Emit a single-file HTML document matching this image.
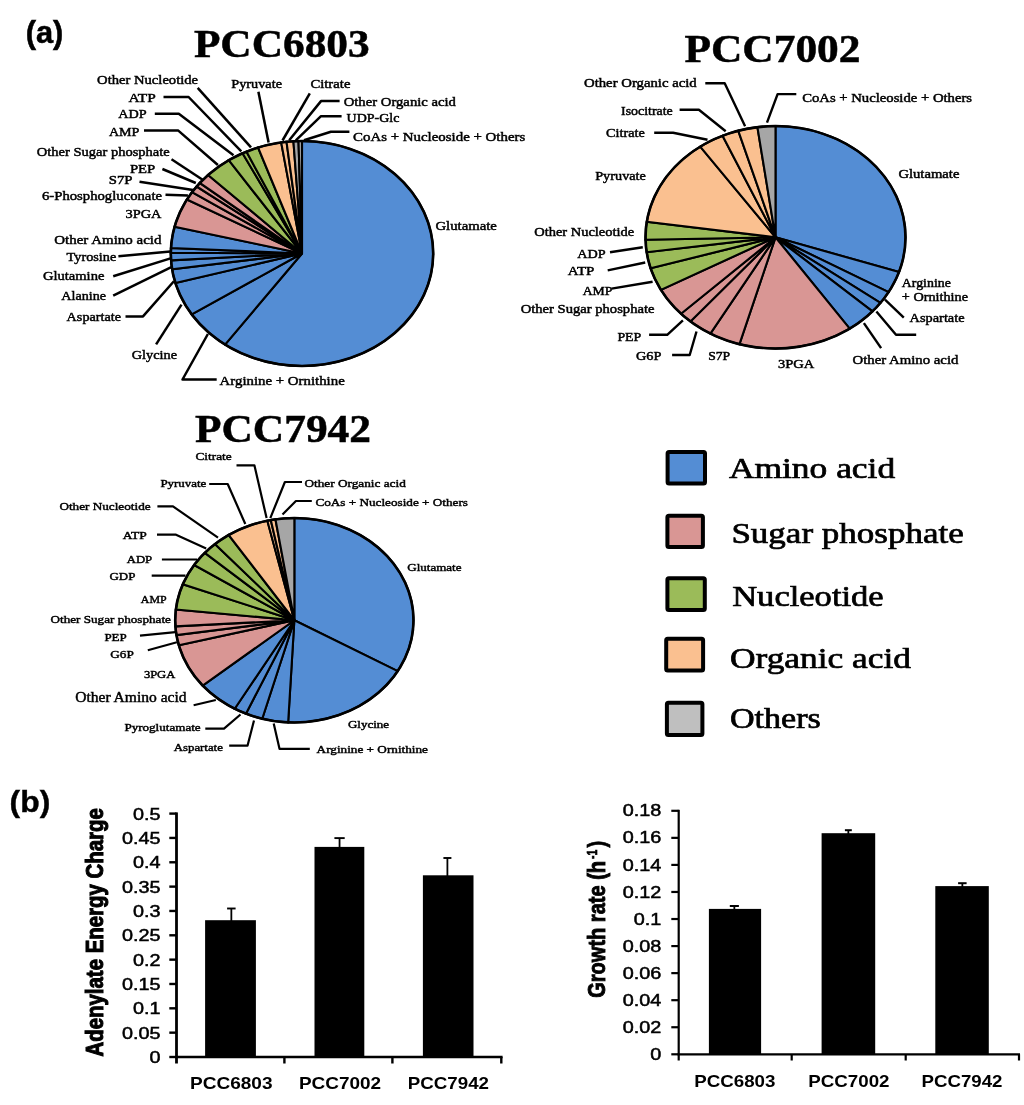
<!DOCTYPE html>
<html><head><meta charset="utf-8"><title>figure</title>
<style>
html,body{margin:0;padding:0;background:#fff;}
body{width:1024px;height:1105px;overflow:hidden;}
svg{display:block;filter:blur(0.35px);}
text{fill:#000;}
</style></head>
<body>
<svg width="1024" height="1105" viewBox="0 0 1024 1105">
<rect x="0" y="0" width="1024" height="1105" fill="#fff"/>
<path d="M302.00,253.50 L302.00,141.00 A131.20,112.50 0 1 1 225.03,344.61 Z" fill="#548DD4" stroke="#000" stroke-width="2.1" stroke-linejoin="miter"/>
<path d="M302.00,253.50 L225.03,344.61 A131.20,112.50 0 0 1 191.70,314.42 Z" fill="#548DD4" stroke="#000" stroke-width="2.1" stroke-linejoin="miter"/>
<path d="M302.00,253.50 L191.70,314.42 A131.20,112.50 0 0 1 175.40,283.02 Z" fill="#548DD4" stroke="#000" stroke-width="2.1" stroke-linejoin="miter"/>
<path d="M302.00,253.50 L175.40,283.02 A131.20,112.50 0 0 1 172.11,269.33 Z" fill="#548DD4" stroke="#000" stroke-width="2.1" stroke-linejoin="miter"/>
<path d="M302.00,253.50 L172.11,269.33 A131.20,112.50 0 0 1 171.05,260.38 Z" fill="#548DD4" stroke="#000" stroke-width="2.1" stroke-linejoin="miter"/>
<path d="M302.00,253.50 L171.05,260.38 A131.20,112.50 0 0 1 170.80,252.79 Z" fill="#548DD4" stroke="#000" stroke-width="2.1" stroke-linejoin="miter"/>
<path d="M302.00,253.50 L170.80,252.79 A131.20,112.50 0 0 1 170.96,247.93 Z" fill="#548DD4" stroke="#000" stroke-width="2.1" stroke-linejoin="miter"/>
<path d="M302.00,253.50 L170.96,247.93 A131.20,112.50 0 0 1 174.54,226.82 Z" fill="#548DD4" stroke="#000" stroke-width="2.1" stroke-linejoin="miter"/>
<path d="M302.00,253.50 L174.54,226.82 A131.20,112.50 0 0 1 186.90,199.50 Z" fill="#D99694" stroke="#000" stroke-width="2.1" stroke-linejoin="miter"/>
<path d="M302.00,253.50 L186.90,199.50 A131.20,112.50 0 0 1 192.03,192.14 Z" fill="#D99694" stroke="#000" stroke-width="2.1" stroke-linejoin="miter"/>
<path d="M302.00,253.50 L192.03,192.14 A131.20,112.50 0 0 1 196.59,186.51 Z" fill="#D99694" stroke="#000" stroke-width="2.1" stroke-linejoin="miter"/>
<path d="M302.00,253.50 L196.59,186.51 A131.20,112.50 0 0 1 199.77,182.98 Z" fill="#D99694" stroke="#000" stroke-width="2.1" stroke-linejoin="miter"/>
<path d="M302.00,253.50 L199.77,182.98 A131.20,112.50 0 0 1 208.06,174.96 Z" fill="#D99694" stroke="#000" stroke-width="2.1" stroke-linejoin="miter"/>
<path d="M302.00,253.50 L208.06,174.96 A131.20,112.50 0 0 1 228.74,160.17 Z" fill="#9BBB59" stroke="#000" stroke-width="2.1" stroke-linejoin="miter"/>
<path d="M302.00,253.50 L228.74,160.17 A131.20,112.50 0 0 1 242.54,153.22 Z" fill="#9BBB59" stroke="#000" stroke-width="2.1" stroke-linejoin="miter"/>
<path d="M302.00,253.50 L242.54,153.22 A131.20,112.50 0 0 1 246.41,151.60 Z" fill="#9BBB59" stroke="#000" stroke-width="2.1" stroke-linejoin="miter"/>
<path d="M302.00,253.50 L246.41,151.60 A131.20,112.50 0 0 1 258.04,147.50 Z" fill="#9BBB59" stroke="#000" stroke-width="2.1" stroke-linejoin="miter"/>
<path d="M302.00,253.50 L258.04,147.50 A131.20,112.50 0 0 1 281.17,142.43 Z" fill="#FAC090" stroke="#000" stroke-width="2.1" stroke-linejoin="miter"/>
<path d="M302.00,253.50 L281.17,142.43 A131.20,112.50 0 0 1 286.51,141.79 Z" fill="#FAC090" stroke="#000" stroke-width="2.1" stroke-linejoin="miter"/>
<path d="M302.00,253.50 L286.51,141.79 A131.20,112.50 0 0 1 293.42,141.24 Z" fill="#FAC090" stroke="#000" stroke-width="2.1" stroke-linejoin="miter"/>
<path d="M302.00,253.50 L293.42,141.24 A131.20,112.50 0 0 1 298.50,141.04 Z" fill="#A6A6A6" stroke="#000" stroke-width="2.1" stroke-linejoin="miter"/>
<path d="M302.00,253.50 L298.50,141.04 A131.20,112.50 0 0 1 302.00,141.00 Z" fill="#A6A6A6" stroke="#000" stroke-width="2.1" stroke-linejoin="miter"/>
<ellipse cx="302.00" cy="253.50" rx="131.20" ry="112.50" fill="none" stroke="#000" stroke-width="2.6"/>
<path d="M775.50,237.30 L775.50,126.05 A130.00,111.25 0 0 1 899.01,272.02 Z" fill="#548DD4" stroke="#000" stroke-width="2.1" stroke-linejoin="miter"/>
<path d="M775.50,237.30 L899.01,272.02 A130.00,111.25 0 0 1 888.60,292.14 Z" fill="#548DD4" stroke="#000" stroke-width="2.1" stroke-linejoin="miter"/>
<path d="M775.50,237.30 L888.60,292.14 A130.00,111.25 0 0 1 880.48,302.91 Z" fill="#548DD4" stroke="#000" stroke-width="2.1" stroke-linejoin="miter"/>
<path d="M775.50,237.30 L880.48,302.91 A130.00,111.25 0 0 1 872.48,311.39 Z" fill="#548DD4" stroke="#000" stroke-width="2.1" stroke-linejoin="miter"/>
<path d="M775.50,237.30 L872.48,311.39 A130.00,111.25 0 0 1 849.69,328.65 Z" fill="#548DD4" stroke="#000" stroke-width="2.1" stroke-linejoin="miter"/>
<path d="M775.50,237.30 L849.69,328.65 A130.00,111.25 0 0 1 739.47,344.19 Z" fill="#D99694" stroke="#000" stroke-width="2.1" stroke-linejoin="miter"/>
<path d="M775.50,237.30 L739.47,344.19 A130.00,111.25 0 0 1 710.38,333.58 Z" fill="#D99694" stroke="#000" stroke-width="2.1" stroke-linejoin="miter"/>
<path d="M775.50,237.30 L710.38,333.58 A130.00,111.25 0 0 1 690.46,321.44 Z" fill="#D99694" stroke="#000" stroke-width="2.1" stroke-linejoin="miter"/>
<path d="M775.50,237.30 L690.46,321.44 A130.00,111.25 0 0 1 681.02,313.72 Z" fill="#D99694" stroke="#000" stroke-width="2.1" stroke-linejoin="miter"/>
<path d="M775.50,237.30 L681.02,313.72 A130.00,111.25 0 0 1 660.92,289.85 Z" fill="#D99694" stroke="#000" stroke-width="2.1" stroke-linejoin="miter"/>
<path d="M775.50,237.30 L660.92,289.85 A130.00,111.25 0 0 1 650.65,268.31 Z" fill="#9BBB59" stroke="#000" stroke-width="2.1" stroke-linejoin="miter"/>
<path d="M775.50,237.30 L650.65,268.31 A130.00,111.25 0 0 1 646.67,252.17 Z" fill="#9BBB59" stroke="#000" stroke-width="2.1" stroke-linejoin="miter"/>
<path d="M775.50,237.30 L646.67,252.17 A130.00,111.25 0 0 1 645.53,239.70 Z" fill="#9BBB59" stroke="#000" stroke-width="2.1" stroke-linejoin="miter"/>
<path d="M775.50,237.30 L645.53,239.70 A130.00,111.25 0 0 1 646.78,221.75 Z" fill="#9BBB59" stroke="#000" stroke-width="2.1" stroke-linejoin="miter"/>
<path d="M775.50,237.30 L646.78,221.75 A130.00,111.25 0 0 1 700.22,146.60 Z" fill="#FAC090" stroke="#000" stroke-width="2.1" stroke-linejoin="miter"/>
<path d="M775.50,237.30 L700.22,146.60 A130.00,111.25 0 0 1 722.56,135.69 Z" fill="#FAC090" stroke="#000" stroke-width="2.1" stroke-linejoin="miter"/>
<path d="M775.50,237.30 L722.56,135.69 A130.00,111.25 0 0 1 738.23,130.72 Z" fill="#FAC090" stroke="#000" stroke-width="2.1" stroke-linejoin="miter"/>
<path d="M775.50,237.30 L738.23,130.72 A130.00,111.25 0 0 1 757.42,127.13 Z" fill="#FAC090" stroke="#000" stroke-width="2.1" stroke-linejoin="miter"/>
<path d="M775.50,237.30 L757.42,127.13 A130.00,111.25 0 0 1 775.50,126.05 Z" fill="#A6A6A6" stroke="#000" stroke-width="2.1" stroke-linejoin="miter"/>
<ellipse cx="775.50" cy="237.30" rx="130.00" ry="111.25" fill="none" stroke="#000" stroke-width="2.6"/>
<path d="M294.35,620.25 L294.35,518.00 A119.15,102.25 0 0 1 397.70,671.14 Z" fill="#548DD4" stroke="#000" stroke-width="2.1" stroke-linejoin="miter"/>
<path d="M294.35,620.25 L397.70,671.14 A119.15,102.25 0 0 1 288.15,722.36 Z" fill="#548DD4" stroke="#000" stroke-width="2.1" stroke-linejoin="miter"/>
<path d="M294.35,620.25 L288.15,722.36 A119.15,102.25 0 0 1 262.23,718.72 Z" fill="#548DD4" stroke="#000" stroke-width="2.1" stroke-linejoin="miter"/>
<path d="M294.35,620.25 L262.23,718.72 A119.15,102.25 0 0 1 245.94,713.68 Z" fill="#548DD4" stroke="#000" stroke-width="2.1" stroke-linejoin="miter"/>
<path d="M294.35,620.25 L245.94,713.68 A119.15,102.25 0 0 1 234.69,708.76 Z" fill="#548DD4" stroke="#000" stroke-width="2.1" stroke-linejoin="miter"/>
<path d="M294.35,620.25 L234.69,708.76 A119.15,102.25 0 0 1 202.68,685.57 Z" fill="#548DD4" stroke="#000" stroke-width="2.1" stroke-linejoin="miter"/>
<path d="M294.35,620.25 L202.68,685.57 A119.15,102.25 0 0 1 178.83,645.29 Z" fill="#D99694" stroke="#000" stroke-width="2.1" stroke-linejoin="miter"/>
<path d="M294.35,620.25 L178.83,645.29 A119.15,102.25 0 0 1 176.47,635.15 Z" fill="#D99694" stroke="#000" stroke-width="2.1" stroke-linejoin="miter"/>
<path d="M294.35,620.25 L176.47,635.15 A119.15,102.25 0 0 1 175.42,626.40 Z" fill="#D99694" stroke="#000" stroke-width="2.1" stroke-linejoin="miter"/>
<path d="M294.35,620.25 L175.42,626.40 A119.15,102.25 0 0 1 175.86,609.54 Z" fill="#D99694" stroke="#000" stroke-width="2.1" stroke-linejoin="miter"/>
<path d="M294.35,620.25 L175.86,609.54 A119.15,102.25 0 0 1 182.83,584.24 Z" fill="#9BBB59" stroke="#000" stroke-width="2.1" stroke-linejoin="miter"/>
<path d="M294.35,620.25 L182.83,584.24 A119.15,102.25 0 0 1 194.08,565.02 Z" fill="#9BBB59" stroke="#000" stroke-width="2.1" stroke-linejoin="miter"/>
<path d="M294.35,620.25 L194.08,565.02 A119.15,102.25 0 0 1 204.81,552.79 Z" fill="#9BBB59" stroke="#000" stroke-width="2.1" stroke-linejoin="miter"/>
<path d="M294.35,620.25 L204.81,552.79 A119.15,102.25 0 0 1 214.93,544.03 Z" fill="#9BBB59" stroke="#000" stroke-width="2.1" stroke-linejoin="miter"/>
<path d="M294.35,620.25 L214.93,544.03 A119.15,102.25 0 0 1 228.62,534.97 Z" fill="#9BBB59" stroke="#000" stroke-width="2.1" stroke-linejoin="miter"/>
<path d="M294.35,620.25 L228.62,534.97 A119.15,102.25 0 0 1 267.32,520.67 Z" fill="#FAC090" stroke="#000" stroke-width="2.1" stroke-linejoin="miter"/>
<path d="M294.35,620.25 L267.32,520.67 A119.15,102.25 0 0 1 270.78,520.02 Z" fill="#FAC090" stroke="#000" stroke-width="2.1" stroke-linejoin="miter"/>
<path d="M294.35,620.25 L270.78,520.02 A119.15,102.25 0 0 1 275.44,519.30 Z" fill="#FAC090" stroke="#000" stroke-width="2.1" stroke-linejoin="miter"/>
<path d="M294.35,620.25 L275.44,519.30 A119.15,102.25 0 0 1 294.35,518.00 Z" fill="#A6A6A6" stroke="#000" stroke-width="2.1" stroke-linejoin="miter"/>
<ellipse cx="294.35" cy="620.25" rx="119.15" ry="102.25" fill="none" stroke="#000" stroke-width="2.6"/>
<polyline points="197.7,87.8 251.0,147.4" fill="none" stroke="#000" stroke-width="2.5" stroke-linejoin="round" stroke-linecap="butt"/>
<polyline points="163.5,97.0 188.6,97.0 241.3,151.3" fill="none" stroke="#000" stroke-width="2.5" stroke-linejoin="round" stroke-linecap="butt"/>
<polyline points="154.8,113.7 178.8,113.7 233.5,155.2" fill="none" stroke="#000" stroke-width="2.5" stroke-linejoin="round" stroke-linecap="butt"/>
<polyline points="144.0,130.6 178.3,130.6 217.9,165.0" fill="none" stroke="#000" stroke-width="2.5" stroke-linejoin="round" stroke-linecap="butt"/>
<polyline points="171.5,159.3 203.0,180.0" fill="none" stroke="#000" stroke-width="2.5" stroke-linejoin="round" stroke-linecap="butt"/>
<polyline points="162.4,169.0 195.8,183.0" fill="none" stroke="#000" stroke-width="2.5" stroke-linejoin="round" stroke-linecap="butt"/>
<polyline points="139.5,181.7 193.1,190.1" fill="none" stroke="#000" stroke-width="2.5" stroke-linejoin="round" stroke-linecap="butt"/>
<polyline points="165.5,194.8 187.9,195.5" fill="none" stroke="#000" stroke-width="2.5" stroke-linejoin="round" stroke-linecap="butt"/>
<polyline points="118.4,256.3 170.5,251.4" fill="none" stroke="#000" stroke-width="2.5" stroke-linejoin="round" stroke-linecap="butt"/>
<polyline points="113.2,276.3 170.5,258.4" fill="none" stroke="#000" stroke-width="2.5" stroke-linejoin="round" stroke-linecap="butt"/>
<polyline points="113.2,295.7 171.3,267.2" fill="none" stroke="#000" stroke-width="2.5" stroke-linejoin="round" stroke-linecap="butt"/>
<polyline points="125.5,316.4 143.0,316.4 173.9,281.2" fill="none" stroke="#000" stroke-width="2.5" stroke-linejoin="round" stroke-linecap="butt"/>
<polyline points="156.1,344.3 181.5,304.6" fill="none" stroke="#000" stroke-width="2.5" stroke-linejoin="round" stroke-linecap="butt"/>
<polyline points="216.7,379.5 182.5,379.5 207.9,334.0" fill="none" stroke="#000" stroke-width="2.5" stroke-linejoin="round" stroke-linecap="butt"/>
<polyline points="258.4,91.7 268.6,142.5" fill="none" stroke="#000" stroke-width="2.5" stroke-linejoin="round" stroke-linecap="butt"/>
<polyline points="309.8,93.3 282.5,140.5" fill="none" stroke="#000" stroke-width="2.5" stroke-linejoin="round" stroke-linecap="butt"/>
<polyline points="339.6,101.1 321.0,101.1 289.2,140.3" fill="none" stroke="#000" stroke-width="2.5" stroke-linejoin="round" stroke-linecap="butt"/>
<polyline points="341.6,116.2 321.0,116.2 295.8,140.3" fill="none" stroke="#000" stroke-width="2.5" stroke-linejoin="round" stroke-linecap="butt"/>
<polyline points="349.4,131.8 330.9,131.8 304.0,140.3" fill="none" stroke="#000" stroke-width="2.5" stroke-linejoin="round" stroke-linecap="butt"/>
<polyline points="705.3,83.3 724.7,83.3 745.1,126.3" fill="none" stroke="#000" stroke-width="2.4" stroke-linejoin="round" stroke-linecap="butt"/>
<polyline points="679.6,109.7 698.9,109.7 725.7,131.2" fill="none" stroke="#000" stroke-width="2.4" stroke-linejoin="round" stroke-linecap="butt"/>
<polyline points="654.2,132.7 673.1,132.7 707.5,139.8" fill="none" stroke="#000" stroke-width="2.4" stroke-linejoin="round" stroke-linecap="butt"/>
<polyline points="796.3,94.1 777.6,94.1 767.0,122.7" fill="none" stroke="#000" stroke-width="2.4" stroke-linejoin="round" stroke-linecap="butt"/>
<polyline points="610.0,252.3 642.8,247.2" fill="none" stroke="#000" stroke-width="2.4" stroke-linejoin="round" stroke-linecap="butt"/>
<polyline points="607.7,270.3 645.2,262.5" fill="none" stroke="#000" stroke-width="2.4" stroke-linejoin="round" stroke-linecap="butt"/>
<polyline points="611.6,288.6 652.6,281.7" fill="none" stroke="#000" stroke-width="2.4" stroke-linejoin="round" stroke-linecap="butt"/>
<polyline points="649.1,334.8 667.2,334.8 682.9,320.4" fill="none" stroke="#000" stroke-width="2.4" stroke-linejoin="round" stroke-linecap="butt"/>
<polyline points="672.1,355.0 689.7,355.0 696.5,331.5" fill="none" stroke="#000" stroke-width="2.4" stroke-linejoin="round" stroke-linecap="butt"/>
<polyline points="885.0,299.7 903.8,317.7" fill="none" stroke="#000" stroke-width="2.4" stroke-linejoin="round" stroke-linecap="butt"/>
<polyline points="876.4,311.4 896.0,334.8 916.2,334.8" fill="none" stroke="#000" stroke-width="2.4" stroke-linejoin="round" stroke-linecap="butt"/>
<polyline points="863.9,323.1 881.1,348.1" fill="none" stroke="#000" stroke-width="2.4" stroke-linejoin="round" stroke-linecap="butt"/>
<polyline points="236.5,465.3 254.4,465.3 266.6,518.1" fill="none" stroke="#000" stroke-width="2.2" stroke-linejoin="round" stroke-linecap="butt"/>
<polyline points="209.2,484.0 227.7,484.0 245.3,524.0" fill="none" stroke="#000" stroke-width="2.2" stroke-linejoin="round" stroke-linecap="butt"/>
<polyline points="157.4,506.4 173.0,506.4 218.0,537.7" fill="none" stroke="#000" stroke-width="2.2" stroke-linejoin="round" stroke-linecap="butt"/>
<polyline points="157.0,534.7 176.0,534.7 206.2,548.4" fill="none" stroke="#000" stroke-width="2.2" stroke-linejoin="round" stroke-linecap="butt"/>
<polyline points="161.9,559.5 197.0,559.5" fill="none" stroke="#000" stroke-width="2.2" stroke-linejoin="round" stroke-linecap="butt"/>
<polyline points="151.7,575.6 185.5,575.6" fill="none" stroke="#000" stroke-width="2.2" stroke-linejoin="round" stroke-linecap="butt"/>
<polyline points="140.0,635.6 175.4,632.2" fill="none" stroke="#000" stroke-width="2.2" stroke-linejoin="round" stroke-linecap="butt"/>
<polyline points="147.8,650.2 176.9,642.3" fill="none" stroke="#000" stroke-width="2.2" stroke-linejoin="round" stroke-linecap="butt"/>
<polyline points="193.6,705.2 215.8,700.0" fill="none" stroke="#000" stroke-width="2.2" stroke-linejoin="round" stroke-linecap="butt"/>
<polyline points="205.3,728.6 224.0,728.6 240.5,714.5" fill="none" stroke="#000" stroke-width="2.2" stroke-linejoin="round" stroke-linecap="butt"/>
<polyline points="229.2,745.7 247.5,745.7 254.0,720.4" fill="none" stroke="#000" stroke-width="2.2" stroke-linejoin="round" stroke-linecap="butt"/>
<polyline points="309.8,748.8 279.5,748.8 273.7,723.4" fill="none" stroke="#000" stroke-width="2.2" stroke-linejoin="round" stroke-linecap="butt"/>
<polyline points="302.0,482.0 284.9,482.0 270.3,518.1" fill="none" stroke="#000" stroke-width="2.2" stroke-linejoin="round" stroke-linecap="butt"/>
<polyline points="311.8,501.0 295.9,501.0 282.5,514.5" fill="none" stroke="#000" stroke-width="2.2" stroke-linejoin="round" stroke-linecap="butt"/>
<text x="97.10" y="83.90" font-family='"Liberation Serif", serif' font-size="12.5" font-weight="normal" textLength="100.99" lengthAdjust="spacingAndGlyphs" stroke="#000" stroke-width="0.45">Other Nucleotide</text>
<text x="128.40" y="101.50" font-family='"Liberation Serif", serif' font-size="12.5" font-weight="normal" textLength="27.27" lengthAdjust="spacingAndGlyphs" stroke="#000" stroke-width="0.45">ATP</text>
<text x="118.20" y="118.30" font-family='"Liberation Serif", serif' font-size="12.5" font-weight="normal" textLength="28.41" lengthAdjust="spacingAndGlyphs" stroke="#000" stroke-width="0.45">ADP</text>
<text x="108.90" y="136.30" font-family='"Liberation Serif", serif' font-size="12.5" font-weight="normal" textLength="30.56" lengthAdjust="spacingAndGlyphs" stroke="#000" stroke-width="0.45">AMP</text>
<text x="36.70" y="155.80" font-family='"Liberation Serif", serif' font-size="12.5" font-weight="normal" textLength="133.09" lengthAdjust="spacingAndGlyphs" stroke="#000" stroke-width="0.45">Other Sugar phosphate</text>
<text x="129.90" y="172.50" font-family='"Liberation Serif", serif' font-size="12.5" font-weight="normal" textLength="25.37" lengthAdjust="spacingAndGlyphs" stroke="#000" stroke-width="0.45">PEP</text>
<text x="108.80" y="183.60" font-family='"Liberation Serif", serif' font-size="12.5" font-weight="normal" textLength="23.73" lengthAdjust="spacingAndGlyphs" stroke="#000" stroke-width="0.45">S7P</text>
<text x="42.00" y="199.80" font-family='"Liberation Serif", serif' font-size="12.5" font-weight="normal" textLength="120.01" lengthAdjust="spacingAndGlyphs" stroke="#000" stroke-width="0.45">6-Phosphogluconate</text>
<text x="125.50" y="218.20" font-family='"Liberation Serif", serif' font-size="12.5" font-weight="normal" textLength="36.01" lengthAdjust="spacingAndGlyphs" stroke="#000" stroke-width="0.45">3PGA</text>
<text x="54.30" y="243.50" font-family='"Liberation Serif", serif' font-size="12.5" font-weight="normal" textLength="107.20" lengthAdjust="spacingAndGlyphs" stroke="#000" stroke-width="0.45">Other Amino acid</text>
<text x="66.60" y="261.00" font-family='"Liberation Serif", serif' font-size="12.5" font-weight="normal" textLength="49.70" lengthAdjust="spacingAndGlyphs" stroke="#000" stroke-width="0.45">Tyrosine</text>
<text x="42.90" y="280.40" font-family='"Liberation Serif", serif' font-size="12.5" font-weight="normal" textLength="61.52" lengthAdjust="spacingAndGlyphs" stroke="#000" stroke-width="0.45">Glutamine</text>
<text x="61.30" y="300.20" font-family='"Liberation Serif", serif' font-size="12.5" font-weight="normal" textLength="44.81" lengthAdjust="spacingAndGlyphs" stroke="#000" stroke-width="0.45">Alanine</text>
<text x="66.60" y="320.80" font-family='"Liberation Serif", serif' font-size="12.5" font-weight="normal" textLength="54.52" lengthAdjust="spacingAndGlyphs" stroke="#000" stroke-width="0.45">Aspartate</text>
<text x="131.70" y="359.30" font-family='"Liberation Serif", serif' font-size="12.5" font-weight="normal" textLength="45.31" lengthAdjust="spacingAndGlyphs" stroke="#000" stroke-width="0.45">Glycine</text>
<text x="219.60" y="384.60" font-family='"Liberation Serif", serif' font-size="12.5" font-weight="normal" textLength="125.17" lengthAdjust="spacingAndGlyphs" stroke="#000" stroke-width="0.45">Arginine + Ornithine</text>
<text x="435.40" y="229.50" font-family='"Liberation Serif", serif' font-size="12.5" font-weight="normal" textLength="61.50" lengthAdjust="spacingAndGlyphs" stroke="#000" stroke-width="0.45">Glutamate</text>
<text x="231.30" y="88.00" font-family='"Liberation Serif", serif' font-size="12.5" font-weight="normal" textLength="50.70" lengthAdjust="spacingAndGlyphs" stroke="#000" stroke-width="0.45">Pyruvate</text>
<text x="310.40" y="88.40" font-family='"Liberation Serif", serif' font-size="12.5" font-weight="normal" textLength="40.02" lengthAdjust="spacingAndGlyphs" stroke="#000" stroke-width="0.45">Citrate</text>
<text x="343.70" y="105.70" font-family='"Liberation Serif", serif' font-size="12.5" font-weight="normal" textLength="112.30" lengthAdjust="spacingAndGlyphs" stroke="#000" stroke-width="0.45">Other Organic acid</text>
<text x="346.60" y="121.80" font-family='"Liberation Serif", serif' font-size="12.5" font-weight="normal" textLength="52.73" lengthAdjust="spacingAndGlyphs" stroke="#000" stroke-width="0.45">UDP-Glc</text>
<text x="353.00" y="140.70" font-family='"Liberation Serif", serif' font-size="12.5" font-weight="normal" textLength="172.31" lengthAdjust="spacingAndGlyphs" stroke="#000" stroke-width="0.45">CoAs + Nucleoside + Others</text>
<text x="584.00" y="87.20" font-family='"Liberation Serif", serif' font-size="12.3" font-weight="normal" textLength="112.70" lengthAdjust="spacingAndGlyphs" stroke="#000" stroke-width="0.45">Other Organic acid</text>
<text x="621.10" y="114.70" font-family='"Liberation Serif", serif' font-size="12.3" font-weight="normal" textLength="51.60" lengthAdjust="spacingAndGlyphs" stroke="#000" stroke-width="0.45">Isocitrate</text>
<text x="606.10" y="137.00" font-family='"Liberation Serif", serif' font-size="12.3" font-weight="normal" textLength="38.72" lengthAdjust="spacingAndGlyphs" stroke="#000" stroke-width="0.45">Citrate</text>
<text x="595.20" y="180.00" font-family='"Liberation Serif", serif' font-size="12.3" font-weight="normal" textLength="50.70" lengthAdjust="spacingAndGlyphs" stroke="#000" stroke-width="0.45">Pyruvate</text>
<text x="534.20" y="236.25" font-family='"Liberation Serif", serif' font-size="12.3" font-weight="normal" textLength="99.99" lengthAdjust="spacingAndGlyphs" stroke="#000" stroke-width="0.45">Other Nucleotide</text>
<text x="577.20" y="257.50" font-family='"Liberation Serif", serif' font-size="12.3" font-weight="normal" textLength="28.41" lengthAdjust="spacingAndGlyphs" stroke="#000" stroke-width="0.45">ADP</text>
<text x="567.80" y="274.70" font-family='"Liberation Serif", serif' font-size="12.3" font-weight="normal" textLength="26.58" lengthAdjust="spacingAndGlyphs" stroke="#000" stroke-width="0.45">ATP</text>
<text x="582.70" y="295.40" font-family='"Liberation Serif", serif' font-size="12.3" font-weight="normal" textLength="29.77" lengthAdjust="spacingAndGlyphs" stroke="#000" stroke-width="0.45">AMP</text>
<text x="520.70" y="313.40" font-family='"Liberation Serif", serif' font-size="12.3" font-weight="normal" textLength="133.79" lengthAdjust="spacingAndGlyphs" stroke="#000" stroke-width="0.45">Other Sugar phosphate</text>
<text x="617.40" y="340.70" font-family='"Liberation Serif", serif' font-size="12.3" font-weight="normal" textLength="23.83" lengthAdjust="spacingAndGlyphs" stroke="#000" stroke-width="0.45">PEP</text>
<text x="636.00" y="360.20" font-family='"Liberation Serif", serif' font-size="12.3" font-weight="normal" textLength="25.38" lengthAdjust="spacingAndGlyphs" stroke="#000" stroke-width="0.45">G6P</text>
<text x="708.20" y="359.60" font-family='"Liberation Serif", serif' font-size="12.3" font-weight="normal" textLength="21.93" lengthAdjust="spacingAndGlyphs" stroke="#000" stroke-width="0.45">S7P</text>
<text x="778.00" y="367.90" font-family='"Liberation Serif", serif' font-size="12.3" font-weight="normal" textLength="36.31" lengthAdjust="spacingAndGlyphs" stroke="#000" stroke-width="0.45">3PGA</text>
<text x="852.60" y="363.75" font-family='"Liberation Serif", serif' font-size="12.3" font-weight="normal" textLength="105.80" lengthAdjust="spacingAndGlyphs" stroke="#000" stroke-width="0.45">Other Amino acid</text>
<text x="909.60" y="322.00" font-family='"Liberation Serif", serif' font-size="12.3" font-weight="normal" textLength="55.02" lengthAdjust="spacingAndGlyphs" stroke="#000" stroke-width="0.45">Aspartate</text>
<text x="901.80" y="286.70" font-family='"Liberation Serif", serif' font-size="12.3" font-weight="normal" textLength="49.02" lengthAdjust="spacingAndGlyphs" stroke="#000" stroke-width="0.45">Arginine</text>
<text x="901.80" y="301.30" font-family='"Liberation Serif", serif' font-size="12.3" font-weight="normal" textLength="66.22" lengthAdjust="spacingAndGlyphs" stroke="#000" stroke-width="0.45">+ Ornithine</text>
<text x="898.40" y="177.50" font-family='"Liberation Serif", serif' font-size="12.3" font-weight="normal" textLength="61.00" lengthAdjust="spacingAndGlyphs" stroke="#000" stroke-width="0.45">Glutamate</text>
<text x="802.20" y="101.60" font-family='"Liberation Serif", serif' font-size="12.3" font-weight="normal" textLength="169.91" lengthAdjust="spacingAndGlyphs" stroke="#000" stroke-width="0.45">CoAs + Nucleoside + Others</text>
<text x="195.50" y="460.10" font-family='"Liberation Serif", serif' font-size="11.3" font-weight="normal" textLength="36.12" lengthAdjust="spacingAndGlyphs" stroke="#000" stroke-width="0.45">Citrate</text>
<text x="160.40" y="486.90" font-family='"Liberation Serif", serif' font-size="11.3" font-weight="normal" textLength="45.85" lengthAdjust="spacingAndGlyphs" stroke="#000" stroke-width="0.45">Pyruvate</text>
<text x="59.40" y="510.30" font-family='"Liberation Serif", serif' font-size="11.3" font-weight="normal" textLength="91.19" lengthAdjust="spacingAndGlyphs" stroke="#000" stroke-width="0.45">Other Nucleotide</text>
<text x="122.70" y="538.60" font-family='"Liberation Serif", serif' font-size="11.3" font-weight="normal" textLength="23.98" lengthAdjust="spacingAndGlyphs" stroke="#000" stroke-width="0.45">ATP</text>
<text x="126.70" y="563.40" font-family='"Liberation Serif", serif' font-size="11.3" font-weight="normal" textLength="25.51" lengthAdjust="spacingAndGlyphs" stroke="#000" stroke-width="0.45">ADP</text>
<text x="109.50" y="580.30" font-family='"Liberation Serif", serif' font-size="11.3" font-weight="normal" textLength="25.81" lengthAdjust="spacingAndGlyphs" stroke="#000" stroke-width="0.45">GDP</text>
<text x="140.80" y="602.50" font-family='"Liberation Serif", serif' font-size="11.3" font-weight="normal" textLength="25.77" lengthAdjust="spacingAndGlyphs" stroke="#000" stroke-width="0.45">AMP</text>
<text x="50.60" y="622.50" font-family='"Liberation Serif", serif' font-size="11.3" font-weight="normal" textLength="120.29" lengthAdjust="spacingAndGlyphs" stroke="#000" stroke-width="0.45">Other Sugar phosphate</text>
<text x="104.40" y="640.80" font-family='"Liberation Serif", serif' font-size="11.3" font-weight="normal" textLength="22.28" lengthAdjust="spacingAndGlyphs" stroke="#000" stroke-width="0.45">PEP</text>
<text x="110.30" y="658.00" font-family='"Liberation Serif", serif' font-size="11.3" font-weight="normal" textLength="23.43" lengthAdjust="spacingAndGlyphs" stroke="#000" stroke-width="0.45">G6P</text>
<text x="143.90" y="678.30" font-family='"Liberation Serif", serif' font-size="11.3" font-weight="normal" textLength="31.31" lengthAdjust="spacingAndGlyphs" stroke="#000" stroke-width="0.45">3PGA</text>
<text x="124.40" y="731.40" font-family='"Liberation Serif", serif' font-size="11.3" font-weight="normal" textLength="76.23" lengthAdjust="spacingAndGlyphs" stroke="#000" stroke-width="0.45">Pyroglutamate</text>
<text x="173.70" y="750.90" font-family='"Liberation Serif", serif' font-size="11.3" font-weight="normal" textLength="49.22" lengthAdjust="spacingAndGlyphs" stroke="#000" stroke-width="0.45">Aspartate</text>
<text x="316.60" y="753.10" font-family='"Liberation Serif", serif' font-size="11.3" font-weight="normal" textLength="111.38" lengthAdjust="spacingAndGlyphs" stroke="#000" stroke-width="0.45">Arginine + Ornithine</text>
<text x="348.00" y="728.20" font-family='"Liberation Serif", serif' font-size="11.3" font-weight="normal" textLength="41.01" lengthAdjust="spacingAndGlyphs" stroke="#000" stroke-width="0.45">Glycine</text>
<text x="407.30" y="570.60" font-family='"Liberation Serif", serif' font-size="11.3" font-weight="normal" textLength="54.20" lengthAdjust="spacingAndGlyphs" stroke="#000" stroke-width="0.45">Glutamate</text>
<text x="304.50" y="486.90" font-family='"Liberation Serif", serif' font-size="11.3" font-weight="normal" textLength="101.30" lengthAdjust="spacingAndGlyphs" stroke="#000" stroke-width="0.45">Other Organic acid</text>
<text x="315.40" y="505.90" font-family='"Liberation Serif", serif' font-size="11.3" font-weight="normal" textLength="152.61" lengthAdjust="spacingAndGlyphs" stroke="#000" stroke-width="0.45">CoAs + Nucleoside + Others</text>
<text x="75.20" y="701.60" font-family='"Liberation Serif", serif' font-size="14" font-weight="normal" textLength="111.40" lengthAdjust="spacingAndGlyphs" stroke="#000" stroke-width="0.45">Other Amino acid</text>
<text x="193.90" y="57.30" font-family='"Liberation Serif", serif' font-size="40" font-weight="bold" textLength="175.81" lengthAdjust="spacingAndGlyphs" stroke="#000" stroke-width="0.5">PCC6803</text>
<text x="684.50" y="62.00" font-family='"Liberation Serif", serif' font-size="40" font-weight="bold" textLength="176.01" lengthAdjust="spacingAndGlyphs" stroke="#000" stroke-width="0.5">PCC7002</text>
<text x="195.00" y="441.50" font-family='"Liberation Serif", serif' font-size="40" font-weight="bold" textLength="176.01" lengthAdjust="spacingAndGlyphs" stroke="#000" stroke-width="0.5">PCC7942</text>
<text x="25.70" y="43.20" font-family='"Liberation Sans", sans-serif' font-size="31" font-weight="bold" textLength="37.67" lengthAdjust="spacingAndGlyphs" stroke="#000" stroke-width="0.5">(a)</text>
<text x="9.60" y="811.60" font-family='"Liberation Sans", sans-serif' font-size="30" font-weight="bold" textLength="40.66" lengthAdjust="spacingAndGlyphs" stroke="#000" stroke-width="0.4">(b)</text>
<rect x="667.60" y="452.10" width="37.40" height="31.50" rx="1.5" fill="#548DD4" stroke="#000" stroke-width="4.0"/>
<text x="728.90" y="477.50" font-family='"Liberation Serif", serif' font-size="30" font-weight="normal" textLength="166.24" lengthAdjust="spacingAndGlyphs" stroke="#000" stroke-width="0.7">Amino acid</text>
<rect x="667.40" y="515.80" width="35.50" height="31.10" rx="1.5" fill="#D99694" stroke="#000" stroke-width="4.0"/>
<text x="731.40" y="542.80" font-family='"Liberation Serif", serif' font-size="30" font-weight="normal" textLength="232.32" lengthAdjust="spacingAndGlyphs" stroke="#000" stroke-width="0.7">Sugar phosphate</text>
<rect x="667.40" y="578.20" width="37.40" height="31.90" rx="1.5" fill="#9BBB59" stroke="#000" stroke-width="4.0"/>
<text x="732.20" y="606.00" font-family='"Liberation Serif", serif' font-size="30" font-weight="normal" textLength="151.47" lengthAdjust="spacingAndGlyphs" stroke="#000" stroke-width="0.7">Nucleotide</text>
<rect x="666.20" y="638.80" width="36.90" height="31.80" rx="1.5" fill="#FAC090" stroke="#000" stroke-width="4.0"/>
<text x="730.00" y="668.20" font-family='"Liberation Serif", serif' font-size="30" font-weight="normal" textLength="180.93" lengthAdjust="spacingAndGlyphs" stroke="#000" stroke-width="0.7">Organic acid</text>
<rect x="666.90" y="702.70" width="35.50" height="32.40" rx="1.5" fill="#BFBFBF" stroke="#000" stroke-width="4.0"/>
<text x="730.00" y="728.40" font-family='"Liberation Serif", serif' font-size="30" font-weight="normal" textLength="90.83" lengthAdjust="spacingAndGlyphs" stroke="#000" stroke-width="0.7">Others</text>
<line x1="169.30" y1="1057.00" x2="176.50" y2="1057.00" stroke="#000" stroke-width="2.4"/>
<line x1="169.30" y1="1032.66" x2="176.50" y2="1032.66" stroke="#000" stroke-width="2.4"/>
<line x1="169.30" y1="1008.32" x2="176.50" y2="1008.32" stroke="#000" stroke-width="2.4"/>
<line x1="169.30" y1="983.98" x2="176.50" y2="983.98" stroke="#000" stroke-width="2.4"/>
<line x1="169.30" y1="959.64" x2="176.50" y2="959.64" stroke="#000" stroke-width="2.4"/>
<line x1="169.30" y1="935.30" x2="176.50" y2="935.30" stroke="#000" stroke-width="2.4"/>
<line x1="169.30" y1="910.96" x2="176.50" y2="910.96" stroke="#000" stroke-width="2.4"/>
<line x1="169.30" y1="886.62" x2="176.50" y2="886.62" stroke="#000" stroke-width="2.4"/>
<line x1="169.30" y1="862.28" x2="176.50" y2="862.28" stroke="#000" stroke-width="2.4"/>
<line x1="169.30" y1="837.94" x2="176.50" y2="837.94" stroke="#000" stroke-width="2.4"/>
<line x1="169.30" y1="813.60" x2="176.50" y2="813.60" stroke="#000" stroke-width="2.4"/>
<line x1="176.50" y1="812.40" x2="176.50" y2="1063.50" stroke="#000" stroke-width="2.8"/>
<line x1="175.10" y1="1057.00" x2="502.60" y2="1057.00" stroke="#000" stroke-width="2.6"/>
<line x1="284.40" y1="1057.00" x2="284.40" y2="1063.50" stroke="#000" stroke-width="2.4"/>
<line x1="392.40" y1="1057.00" x2="392.40" y2="1063.50" stroke="#000" stroke-width="2.4"/>
<line x1="501.30" y1="1057.00" x2="501.30" y2="1063.50" stroke="#000" stroke-width="2.4"/>
<text x="0" y="0" transform="translate(160.6,1063.10) scale(1.167,1)" text-anchor="end" font-family='"Liberation Sans", sans-serif' font-size="17" stroke="#000" stroke-width="0.5">0</text>
<text x="0" y="0" transform="translate(160.6,1038.76) scale(1.167,1)" text-anchor="end" font-family='"Liberation Sans", sans-serif' font-size="17" stroke="#000" stroke-width="0.5">0.05</text>
<text x="0" y="0" transform="translate(160.6,1014.42) scale(1.167,1)" text-anchor="end" font-family='"Liberation Sans", sans-serif' font-size="17" stroke="#000" stroke-width="0.5">0.1</text>
<text x="0" y="0" transform="translate(160.6,990.08) scale(1.167,1)" text-anchor="end" font-family='"Liberation Sans", sans-serif' font-size="17" stroke="#000" stroke-width="0.5">0.15</text>
<text x="0" y="0" transform="translate(160.6,965.74) scale(1.167,1)" text-anchor="end" font-family='"Liberation Sans", sans-serif' font-size="17" stroke="#000" stroke-width="0.5">0.2</text>
<text x="0" y="0" transform="translate(160.6,941.40) scale(1.167,1)" text-anchor="end" font-family='"Liberation Sans", sans-serif' font-size="17" stroke="#000" stroke-width="0.5">0.25</text>
<text x="0" y="0" transform="translate(160.6,917.06) scale(1.167,1)" text-anchor="end" font-family='"Liberation Sans", sans-serif' font-size="17" stroke="#000" stroke-width="0.5">0.3</text>
<text x="0" y="0" transform="translate(160.6,892.72) scale(1.167,1)" text-anchor="end" font-family='"Liberation Sans", sans-serif' font-size="17" stroke="#000" stroke-width="0.5">0.35</text>
<text x="0" y="0" transform="translate(160.6,868.38) scale(1.167,1)" text-anchor="end" font-family='"Liberation Sans", sans-serif' font-size="17" stroke="#000" stroke-width="0.5">0.4</text>
<text x="0" y="0" transform="translate(160.6,844.04) scale(1.167,1)" text-anchor="end" font-family='"Liberation Sans", sans-serif' font-size="17" stroke="#000" stroke-width="0.5">0.45</text>
<text x="0" y="0" transform="translate(160.6,819.70) scale(1.167,1)" text-anchor="end" font-family='"Liberation Sans", sans-serif' font-size="17" stroke="#000" stroke-width="0.5">0.5</text>
<rect x="205.10" y="920.20" width="50.80" height="136.80" fill="#000" />
<line x1="231.35" y1="921.20" x2="231.35" y2="908.50" stroke="#000" stroke-width="1.8"/>
<line x1="227.10" y1="908.50" x2="235.60" y2="908.50" stroke="#000" stroke-width="1.9"/>
<rect x="314.50" y="846.90" width="49.80" height="210.10" fill="#000" />
<line x1="339.55" y1="847.90" x2="339.55" y2="838.10" stroke="#000" stroke-width="1.8"/>
<line x1="334.40" y1="838.10" x2="344.70" y2="838.10" stroke="#000" stroke-width="1.9"/>
<rect x="422.90" y="875.30" width="50.60" height="181.70" fill="#000" />
<line x1="447.40" y1="876.30" x2="447.40" y2="858.00" stroke="#000" stroke-width="1.8"/>
<line x1="443.40" y1="858.00" x2="451.40" y2="858.00" stroke="#000" stroke-width="1.9"/>
<text x="190.00" y="1089.00" font-family='"Liberation Sans", sans-serif' font-size="16.3" font-weight="bold" textLength="82.52" lengthAdjust="spacingAndGlyphs" >PCC6803</text>
<text x="298.90" y="1089.00" font-family='"Liberation Sans", sans-serif' font-size="16.3" font-weight="bold" textLength="82.22" lengthAdjust="spacingAndGlyphs" >PCC7002</text>
<text x="407.80" y="1089.00" font-family='"Liberation Sans", sans-serif' font-size="16.3" font-weight="bold" textLength="81.22" lengthAdjust="spacingAndGlyphs" >PCC7942</text>
<text transform="translate(102.80,1056.50) scale(1.167,1) rotate(-90)" x="0" y="0" font-family='"Liberation Sans", sans-serif' font-size="20.5" font-weight="bold" textLength="248.31" lengthAdjust="spacingAndGlyphs" stroke="#000" stroke-width="0.9">Adenylate Energy Charge</text>
<line x1="671.30" y1="1054.30" x2="678.70" y2="1054.30" stroke="#000" stroke-width="2.2"/>
<line x1="671.30" y1="1027.24" x2="678.70" y2="1027.24" stroke="#000" stroke-width="2.2"/>
<line x1="671.30" y1="1000.19" x2="678.70" y2="1000.19" stroke="#000" stroke-width="2.2"/>
<line x1="671.30" y1="973.13" x2="678.70" y2="973.13" stroke="#000" stroke-width="2.2"/>
<line x1="671.30" y1="946.08" x2="678.70" y2="946.08" stroke="#000" stroke-width="2.2"/>
<line x1="671.30" y1="919.02" x2="678.70" y2="919.02" stroke="#000" stroke-width="2.2"/>
<line x1="671.30" y1="891.97" x2="678.70" y2="891.97" stroke="#000" stroke-width="2.2"/>
<line x1="671.30" y1="864.91" x2="678.70" y2="864.91" stroke="#000" stroke-width="2.2"/>
<line x1="671.30" y1="837.86" x2="678.70" y2="837.86" stroke="#000" stroke-width="2.2"/>
<line x1="671.30" y1="810.80" x2="678.70" y2="810.80" stroke="#000" stroke-width="2.2"/>
<line x1="678.70" y1="809.80" x2="678.70" y2="1060.50" stroke="#000" stroke-width="2.2"/>
<line x1="677.60" y1="1054.30" x2="1020.00" y2="1054.30" stroke="#000" stroke-width="2.2"/>
<line x1="791.70" y1="1054.30" x2="791.70" y2="1060.50" stroke="#000" stroke-width="2.2"/>
<line x1="905.70" y1="1054.30" x2="905.70" y2="1060.50" stroke="#000" stroke-width="2.2"/>
<line x1="1019.00" y1="1054.30" x2="1019.00" y2="1060.50" stroke="#000" stroke-width="2.2"/>
<text x="0" y="0" transform="translate(661.3,1059.90) scale(1.167,1)" text-anchor="end" font-family='"Liberation Sans", sans-serif' font-size="17" stroke="#000" stroke-width="0.5">0</text>
<text x="0" y="0" transform="translate(661.3,1032.84) scale(1.167,1)" text-anchor="end" font-family='"Liberation Sans", sans-serif' font-size="17" stroke="#000" stroke-width="0.5">0.02</text>
<text x="0" y="0" transform="translate(661.3,1005.79) scale(1.167,1)" text-anchor="end" font-family='"Liberation Sans", sans-serif' font-size="17" stroke="#000" stroke-width="0.5">0.04</text>
<text x="0" y="0" transform="translate(661.3,978.73) scale(1.167,1)" text-anchor="end" font-family='"Liberation Sans", sans-serif' font-size="17" stroke="#000" stroke-width="0.5">0.06</text>
<text x="0" y="0" transform="translate(661.3,951.68) scale(1.167,1)" text-anchor="end" font-family='"Liberation Sans", sans-serif' font-size="17" stroke="#000" stroke-width="0.5">0.08</text>
<text x="0" y="0" transform="translate(661.3,924.62) scale(1.167,1)" text-anchor="end" font-family='"Liberation Sans", sans-serif' font-size="17" stroke="#000" stroke-width="0.5">0.1</text>
<text x="0" y="0" transform="translate(661.3,897.57) scale(1.167,1)" text-anchor="end" font-family='"Liberation Sans", sans-serif' font-size="17" stroke="#000" stroke-width="0.5">0.12</text>
<text x="0" y="0" transform="translate(661.3,870.51) scale(1.167,1)" text-anchor="end" font-family='"Liberation Sans", sans-serif' font-size="17" stroke="#000" stroke-width="0.5">0.14</text>
<text x="0" y="0" transform="translate(661.3,843.46) scale(1.167,1)" text-anchor="end" font-family='"Liberation Sans", sans-serif' font-size="17" stroke="#000" stroke-width="0.5">0.16</text>
<text x="0" y="0" transform="translate(661.3,816.40) scale(1.167,1)" text-anchor="end" font-family='"Liberation Sans", sans-serif' font-size="17" stroke="#000" stroke-width="0.5">0.18</text>
<rect x="708.90" y="908.90" width="52.20" height="145.40" fill="#000" />
<line x1="734.35" y1="909.90" x2="734.35" y2="906.00" stroke="#000" stroke-width="1.8"/>
<line x1="729.80" y1="906.00" x2="738.90" y2="906.00" stroke="#000" stroke-width="2.0"/>
<rect x="821.60" y="833.20" width="53.60" height="221.10" fill="#000" />
<line x1="848.35" y1="834.20" x2="848.35" y2="830.20" stroke="#000" stroke-width="1.8"/>
<line x1="844.90" y1="830.20" x2="851.80" y2="830.20" stroke="#000" stroke-width="2.0"/>
<rect x="935.30" y="886.10" width="53.50" height="168.20" fill="#000" />
<line x1="962.35" y1="887.10" x2="962.35" y2="883.20" stroke="#000" stroke-width="1.8"/>
<line x1="958.10" y1="883.20" x2="966.60" y2="883.20" stroke="#000" stroke-width="2.0"/>
<text x="694.20" y="1086.80" font-family='"Liberation Sans", sans-serif' font-size="16.3" font-weight="bold" textLength="81.22" lengthAdjust="spacingAndGlyphs" >PCC6803</text>
<text x="808.30" y="1086.80" font-family='"Liberation Sans", sans-serif' font-size="16.3" font-weight="bold" textLength="81.22" lengthAdjust="spacingAndGlyphs" >PCC7002</text>
<text x="921.60" y="1086.80" font-family='"Liberation Sans", sans-serif' font-size="16.3" font-weight="bold" textLength="80.92" lengthAdjust="spacingAndGlyphs" >PCC7942</text>
<text transform="translate(604.80,997.80) scale(1.167,1) rotate(-90)" x="0" y="0" font-family='"Liberation Sans", sans-serif' font-size="20.5" font-weight="bold" textLength="136.87" lengthAdjust="spacingAndGlyphs" stroke="#000" stroke-width="0.8">Growth rate (h</text>
<text transform="translate(596.80,859.10) scale(1.167,1) rotate(-90)" x="0" y="0" font-family='"Liberation Sans", sans-serif' font-size="13" font-weight="bold" textLength="9.39" lengthAdjust="spacingAndGlyphs" stroke="#000" stroke-width="0.6">-1</text>
<text transform="translate(604.80,847.60) scale(1.167,1) rotate(-90)" x="0" y="0" font-family='"Liberation Sans", sans-serif' font-size="20.5" font-weight="bold" textLength="6.66" lengthAdjust="spacingAndGlyphs" stroke="#000" stroke-width="0.6">)</text>
</svg>
</body></html>
